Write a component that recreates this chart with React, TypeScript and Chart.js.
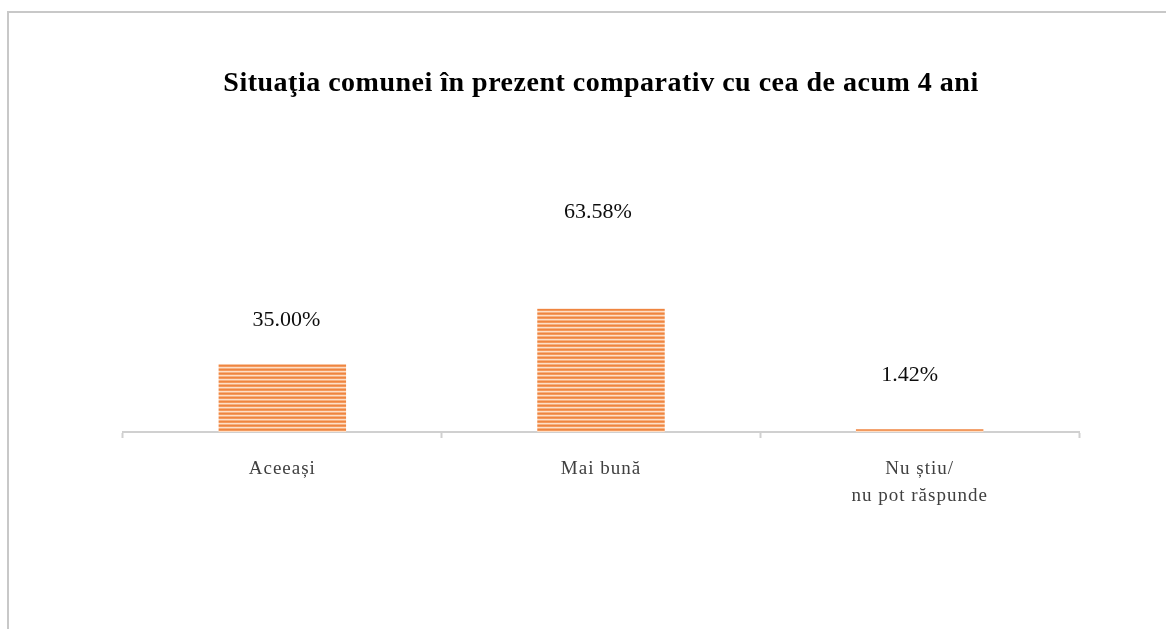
import React, { useEffect, useRef } from "react";
import { Chart, registerables } from "chart.js";

Chart.register(...registerables);

const TITLE = "Situaţia comunei în prezent comparativ cu cea de acum 4 ani";
const categories: (string | string[])[] = ["Aceeași", "Mai bună", ["Nu știu/", "nu pot răspunde"]];
const values: number[] = [35.0, 63.58, 1.42];
const valueLabels: string[] = ["35.00%", "63.58%", "1.42%"];

const FONT = '"Liberation Serif", "Times New Roman", serif';

function makePattern(ctx: CanvasRenderingContext2D): CanvasPattern | string {
  const c = document.createElement("canvas");
  c.width = 8;
  c.height = 4;
  const p = c.getContext("2d");
  if (!p) return "#F08B48";
  const rows = ["#EF8540", "#F39A5E", "#FDDFC8", "#F6B080"];
  rows.forEach((col, i) => {
    p.fillStyle = col;
    p.fillRect(0, i, 8, 1);
  });
  return ctx.createPattern(c, "repeat") || "#F08B48";
}

export default function App() {
  const ref = useRef<HTMLCanvasElement | null>(null);

  useEffect(() => {
    document.body.style.overflow = "hidden";
    const canvas = ref.current;
    if (!canvas) return;
    const ctx = canvas.getContext("2d");
    if (!ctx) return;
    const pattern = makePattern(ctx);

    const labelOffsets = [
      { dx: 4, dy: 44 },
      { dx: -3, dy: 97 },
      { dx: -10, dy: 54 },
    ];

    const spacingPlugin = {
      id: "spacingAndLabels",
      beforeDraw(chart: any) {
        (chart.ctx as any).letterSpacing = "0.5px";
      },
      afterDatasetsDraw(chart: any) {
        const c = chart.ctx as CanvasRenderingContext2D;
        const meta = chart.getDatasetMeta(0);
        c.save();
        (c as any).letterSpacing = "0px";
        c.font = `22px ${FONT}`;
        c.fillStyle = "#0d0d0d";
        c.textAlign = "center";
        c.textBaseline = "middle";
        meta.data.forEach((bar: any, i: number) => {
          const o = labelOffsets[i];
          c.fillText(valueLabels[i], bar.x + o.dx, bar.y - o.dy);
        });
        c.restore();
        (c as any).letterSpacing = "1px";
      },
      afterDraw(chart: any) {
        (chart.ctx as any).letterSpacing = "0px";
      },
    };

    const chart = new Chart(canvas, {
      type: "bar",
      data: {
        labels: categories,
        datasets: [
          {
            data: values,
            backgroundColor: pattern as any,
            borderWidth: 0,
            barPercentage: 0.4,
            categoryPercentage: 1.0,
          },
        ],
      },
      options: {
        responsive: false,
        animation: false,
        layout: { padding: { left: 114, right: 87, top: 0, bottom: 101 } },
        plugins: {
          legend: { display: false },
          tooltip: { enabled: false },
          title: {
            display: true,
            text: TITLE,
            color: "#000000",
            font: { family: FONT, size: 28, weight: "bold", lineHeight: 1.2 },
            padding: { top: 54, bottom: 137.6 },
          },
        },
        scales: {
          x: {
            grid: {
              display: true,
              drawOnChartArea: false,
              drawTicks: true,
              tickLength: 6,
              tickWidth: 2,
              tickColor: "#d0d0d0",
              offset: true,
            },
            border: { display: true, color: "#d0d0d0", width: 2 },
            ticks: {
              z: 1,
              color: "#404040",
              padding: 18,
              font: { family: FONT, size: 19, lineHeight: 27 / 19 },
              maxRotation: 0,
              autoSkip: false,
            },
          },
          y: {
            display: false,
            min: 0,
            max: 100,
          },
        },
      },
      plugins: [spacingPlugin],
    });

    return () => chart.destroy();
  }, []);

  return (
    <div
      style={{
        position: "absolute",
        left: 7,
        top: 11,
        width: 1159,
        height: 618,
        borderLeft: "2px solid #c8c8c8",
        borderTop: "2px solid #c8c8c8",
        boxSizing: "border-box",
        background: "#ffffff",
        overflow: "hidden",
      }}
    >
      <canvas ref={ref} width={1157} height={616} style={{ display: "block" }} />
    </div>
  );
}
